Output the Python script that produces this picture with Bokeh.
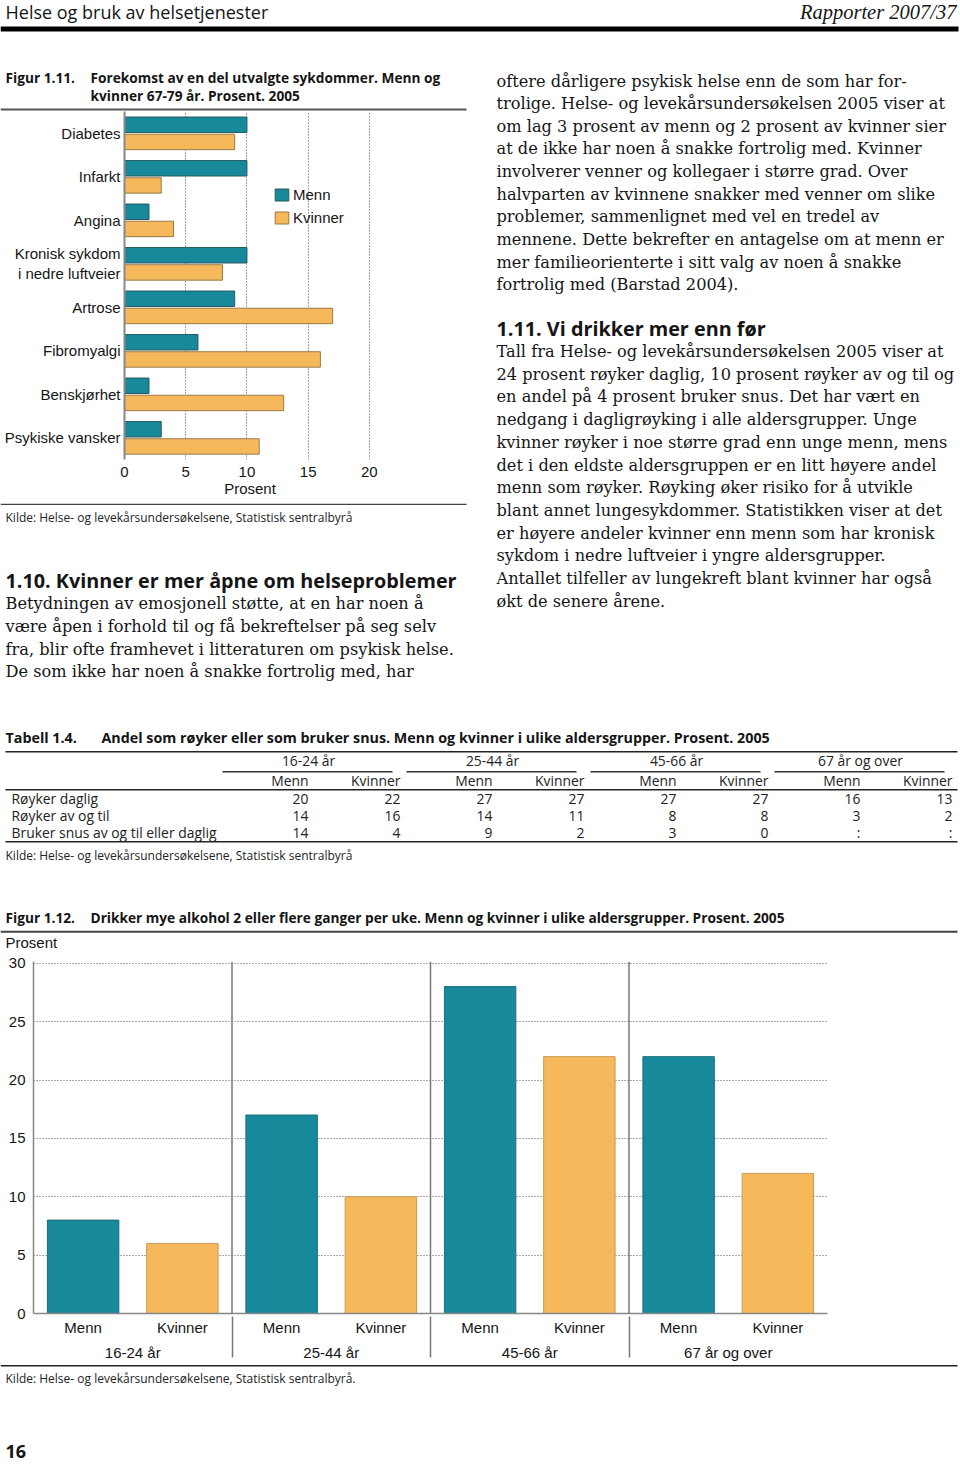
from bokeh.plotting import figure
from bokeh.models import Range1d, FactorRange, Legend, LegendItem, FixedTicker, Span, ColumnDataSource
from bokeh.layouts import column, row
from bokeh.embed import file_html
from bokeh.resources import INLINE
from bokeh.core.properties import value
from bokeh.transform import dodge

# ---------------- data ----------------
diseases = ["Diabetes", "Infarkt", "Angina", "Kronisk sykdom\ni nedre luftveier",
            "Artrose", "Fibromyalgi", "Benskjørhet", "Psykiske vansker"]
f11_menn = [10, 10, 2, 10, 9, 6, 2, 3]
f11_kvinner = [9, 3, 4, 8, 17, 16, 13, 11]
f11_ticks = [0, 5, 10, 15, 20]

table_groups = ["16-24 år", "25-44 år", "45-66 år", "67 år og over"]
table_sexes = ["Menn", "Kvinner"]
table_rows = ["Røyker daglig", "Røyker av og til", "Bruker snus av og til eller daglig"]
table_values = [["20", "22", "27", "27", "27", "27", "16", "13"],
                ["14", "16", "14", "11", "8", "8", "3", "2"],
                ["14", "4", "9", "2", "3", "0", ":", ":"]]

f12_groups = ["16-24 år", "25-44 år", "45-66 år", "67 år og over"]
f12_sexes = ["Menn", "Kvinner"]
f12_menn = [8, 17, 28, 22]
f12_kvinner = [6, 10, 22, 12]
f12_ticks = [0, 5, 10, 15, 20, 25, 30]

header_left = "Helse og bruk av helsetjenester"
header_right = "Rapporter 2007/37"
f11_label = "Figur 1.11."
f11_title = ["Forekomst av en del utvalgte sykdommer. Menn og", "kvinner 67-79 år. Prosent. 2005"]
source_text = "Kilde: Helse- og levekårsundersøkelsene, Statistisk sentralbyrå"
sec110_head = "1.10. Kvinner er mer åpne om helseproblemer"
sec110_lines = ["Betydningen av emosjonell støtte, at en har noen å",
                "være åpen i forhold til og få bekreftelser på seg selv",
                "fra, blir ofte framhevet i litteraturen om psykisk helse.",
                "De som ikke har noen å snakke fortrolig med, har"]
right_lines_1 = ["oftere dårligere psykisk helse enn de som har for-",
                 "trolige. Helse- og levekårsundersøkelsen 2005 viser at",
                 "om lag 3 prosent av menn og 2 prosent av kvinner sier",
                 "at de ikke har noen å snakke fortrolig med. Kvinner",
                 "involverer venner og kollegaer i større grad. Over",
                 "halvparten av kvinnene snakker med venner om slike",
                 "problemer, sammenlignet med vel en tredel av",
                 "mennene. Dette bekrefter en antagelse om at menn er",
                 "mer familieorienterte i sitt valg av noen å snakke",
                 "fortrolig med (Barstad 2004)."]
sec111_head = "1.11. Vi drikker mer enn før"
right_lines_2 = ["Tall fra Helse- og levekårsundersøkelsen 2005 viser at",
                 "24 prosent røyker daglig, 10 prosent røyker av og til og",
                 "en andel på 4 prosent bruker snus. Det har vært en",
                 "nedgang i dagligrøyking i alle aldersgrupper. Unge",
                 "kvinner røyker i noe større grad enn unge menn, mens",
                 "det i den eldste aldersgruppen er en litt høyere andel",
                 "menn som røyker. Røyking øker risiko for å utvikle",
                 "blant annet lungesykdommer. Statistikken viser at det",
                 "er høyere andeler kvinner enn menn som har kronisk",
                 "sykdom i nedre luftveier i yngre aldersgrupper.",
                 "Antallet tilfeller av lungekreft blant kvinner har også",
                 "økt de senere årene."]
tab_label = "Tabell 1.4."
tab_title = "Andel som røyker eller som bruker snus. Menn og kvinner i ulike aldersgrupper. Prosent. 2005"
f12_label = "Figur 1.12."
f12_title = "Drikker mye alkohol 2 eller flere ganger per uke. Menn og kvinner i ulike aldersgrupper. Prosent. 2005"
f12_source = "Kilde: Helse- og levekårsundersøkelsene, Statistisk sentralbyrå."
page_no = "16"

# ---------------- styling ----------------
SANS = "Open Sans"
SERIF = "DejaVu Serif"
CHART = "Liberation Sans"
TEAL = "#17899a"
TEAL_EDGE = "#2a5a60"
ORANGE = "#f5b95b"
ORANGE_EDGE = "#9a7a48"
INK = "#151515"
BODY = 16.2


def px(v):
    return f"{v:.2f}px"


def canvas(x0, x1, y0, y1):
    w = int(x1 - x0)
    h = int(y1 - y0)
    p = figure(width=w, height=h, x_range=Range1d(x0, x1), y_range=Range1d(y1, y0),
               output_backend="svg", toolbar_location=None, title=None,
               x_axis_location=None, y_axis_location=None, min_border=0)
    p.grid.visible = False
    p.outline_line_color = None
    return p


def pad(h):
    # 1px empty figure: keeps a chart's borders from being aligned onto its neighbours
    return canvas(0, 1, 0, h)


def T(p, x, y, s, size, font=SANS, style="normal", align="left", color=INK):
    p.text(x=[x], y=[y], text=[s], text_font=value(font), text_font_size=px(size),
           text_font_style=style, text_align=align, text_baseline="middle", text_color=color)


def L(p, x0, x1, y, width, color):
    p.line(x=[x0, x1], y=[y, y], line_width=width, line_color=color)


# ---------------- header ----------------
hdr = canvas(0, 960, 0, 60)
T(hdr, 5, 11, header_left, 18)
T(hdr, 956, 11, header_right, 20.5, "Liberation Serif", "italic", "right")
L(hdr, 0, 958, 28.5, 5, "#000000")

# ---------------- figure 1.11 title ----------------
t11 = canvas(0, 480, 60, 111)
T(t11, 5, 77, f11_label, 13.7, style="bold")
T(t11, 90, 77, f11_title[0], 13.7, style="bold")
T(t11, 90, 95, f11_title[1], 13.7, style="bold")
L(t11, 0, 466, 109, 2, "#555555")

# ---------------- figure 1.11 chart ----------------
p11 = figure(width=478, height=392, output_backend="svg", toolbar_location=None, title=None,
             y_range=FactorRange(factors=diseases[::-1]), x_range=Range1d(0, 20.5),
             min_border_left=123, min_border_right=104, min_border_top=0, min_border_bottom=44)
p11.outline_line_color = None
src11 = ColumnDataSource(dict(disease=diseases, menn=f11_menn, kvinner=f11_kvinner))
rm = p11.hbar(y=dodge("disease", 0.195, range=p11.y_range), left=0, right="menn", height=0.355,
              source=src11, fill_color=TEAL, line_color=TEAL_EDGE, line_width=1)
rk = p11.hbar(y=dodge("disease", -0.2, range=p11.y_range), left=0, right="kvinner", height=0.355,
              source=src11, fill_color=ORANGE, line_color=ORANGE_EDGE, line_width=1)
p11.ygrid.visible = False
p11.xgrid.ticker = FixedTicker(ticks=f11_ticks[1:])
p11.xgrid.grid_line_color = "#444444"
p11.xgrid.grid_line_dash = "1 2"
p11.xgrid.grid_line_width = 1
xa = p11.xaxis[0]
xa.ticker = FixedTicker(ticks=f11_ticks)
xa.axis_line_color = None
xa.major_tick_line_color = None
xa.minor_tick_line_color = None
xa.major_tick_out = 0
xa.major_tick_in = 0
xa.major_label_text_font = CHART
xa.major_label_text_font_size = px(15)
xa.major_label_text_color = INK
xa.major_label_standoff = 7
xa.axis_label = "Prosent"
xa.axis_label_text_font = CHART
xa.axis_label_text_font_size = px(15)
xa.axis_label_text_font_style = "normal"
xa.axis_label_text_color = INK
xa.axis_label_standoff = 0
ya = p11.yaxis[0]
ya.axis_line_color = "#888888"
ya.axis_line_width = 2
ya.major_tick_line_color = None
ya.minor_tick_line_color = None
ya.major_tick_out = 0
ya.major_tick_in = 0
ya.major_label_text_font = CHART
ya.major_label_text_font_size = px(15)
ya.major_label_text_color = INK
ya.major_label_standoff = 4
leg = Legend(items=[LegendItem(label="Menn", renderers=[rm]), LegendItem(label="Kvinner", renderers=[rk])],
             location=(149, 233), orientation="vertical",
             glyph_width=17, glyph_height=15, label_height=15, label_standoff=3,
             spacing=6, padding=0, margin=0, border_line_color=None, background_fill_alpha=0,
             label_text_font=CHART, label_text_font_size=px(15), label_text_color=INK)
p11.add_layout(leg)

# ---------------- left text ----------------
lt = canvas(0, 480, 503, 700)
L(lt, 0, 466, 503.8, 1.5, "#444444")
T(lt, 5, 516.5, source_text, 12, color="#222222")
T(lt, 5, 580, sec110_head, 19.8, style="bold")
for i, s in enumerate(sec110_lines):
    T(lt, 5, 603 + i * 22.8, s, BODY, SERIF)

# ---------------- right text ----------------
rt = canvas(480, 960, 60, 700)
for i, s in enumerate(right_lines_1):
    T(rt, 496, 80.5 + i * 22.65, s, BODY, SERIF)
T(rt, 496, 328, sec111_head, 19.8, style="bold")
for i, s in enumerate(right_lines_2):
    T(rt, 496, 351 + i * 22.72, s, BODY, SERIF)

# ---------------- table ----------------
tb = canvas(0, 960, 700, 880)
T(tb, 5, 737, tab_label, 14.3, style="bold")
T(tb, 101, 737, tab_title, 14.3, style="bold")
L(tb, 5, 957, 751.3, 1.5, "#222222")
col_right = [308 + 92 * k for k in range(8)]
TS = 13.9
for g, name in enumerate(table_groups):
    left_edge = col_right[2 * g] - 86
    right_edge = col_right[2 * g + 1] - 8
    T(tb, (left_edge + right_edge) / 2 + 1, 760, name, TS, align="center", color="#222222")
    L(tb, left_edge, right_edge, 771.3, 1.5, "#333333")
    for k, sx in enumerate(table_sexes):
        T(tb, col_right[2 * g + k], 780, sx, TS, align="right", color="#222222")
L(tb, 5, 957, 789.3, 1.5, "#222222")
for r, name in enumerate(table_rows):
    yy = 798 + r * 17
    T(tb, 11, yy, name, TS, color="#222222")
    for c, v in enumerate(table_values[r]):
        T(tb, col_right[c], yy, v, TS, align="right", color="#222222")
L(tb, 5, 957, 841.3, 1.5, "#222222")
T(tb, 5, 855, source_text, 12, color="#222222")

# ---------------- figure 1.12 title ----------------
t12 = canvas(0, 960, 880, 951)
T(t12, 5, 917, f12_label, 13.7, style="bold")
T(t12, 90, 917, f12_title, 13.7, style="bold")
L(t12, 0, 957, 931.3, 2, "#444444")
T(t12, 5, 942, "Prosent", 15, CHART)

# ---------------- figure 1.12 chart ----------------
factors12 = [(g, s) for g in f12_groups for s in f12_sexes]
p12 = figure(width=958, height=413, output_backend="svg", toolbar_location=None, title=None,
             x_range=FactorRange(factors=factors12, group_padding=0, range_padding=0),
             y_range=Range1d(0, 30.15),
             min_border_left=32, min_border_right=132, min_border_top=10, min_border_bottom=51)
p12.outline_line_color = None
src_m = ColumnDataSource(dict(x=[(g, "Menn") for g in f12_groups], top=f12_menn))
src_k = ColumnDataSource(dict(x=[(g, "Kvinner") for g in f12_groups], top=f12_kvinner))
p12.vbar(x="x", top="top", bottom=0, width=0.72, source=src_m, fill_color=TEAL, line_color="#1a6f7a", line_width=1)
p12.vbar(x="x", top="top", bottom=0, width=0.72, source=src_k, fill_color=ORANGE, line_color="#c99a55", line_width=1)
p12.xgrid.visible = False
p12.ygrid.ticker = FixedTicker(ticks=f12_ticks[1:])
p12.ygrid.grid_line_color = "#555555"
p12.ygrid.grid_line_dash = "1 2"
p12.ygrid.grid_line_width = 1
for k in range(1, len(f12_groups)):
    p12.add_layout(Span(location=2 * k, dimension="height", line_color="#777777", line_width=1.5))
ya2 = p12.yaxis[0]
ya2.ticker = FixedTicker(ticks=f12_ticks)
ya2.axis_line_color = "#888888"
ya2.axis_line_width = 1.5
ya2.major_tick_line_color = None
ya2.minor_tick_line_color = None
ya2.major_tick_out = 0
ya2.major_tick_in = 0
ya2.major_label_text_font = CHART
ya2.major_label_text_font_size = px(15)
ya2.major_label_text_color = INK
ya2.major_label_standoff = 8
xa2 = p12.xaxis[0]
xa2.axis_line_color = "#888888"
xa2.axis_line_width = 1.5
xa2.major_tick_line_color = None
xa2.major_tick_out = 0
xa2.major_tick_in = 0
xa2.major_label_text_font = CHART
xa2.major_label_text_font_size = px(15)
xa2.major_label_text_color = INK
xa2.major_label_standoff = 5
xa2.group_text_font = CHART
xa2.group_text_font_size = px(15)
xa2.group_text_font_style = "normal"
xa2.group_text_color = INK
xa2.separator_line_color = "#777777"
xa2.separator_line_width = 1.5

# ---------------- footer ----------------
ft = canvas(0, 960, 1364, 1465)
L(ft, 0, 957, 1365.3, 1.5, "#222222")
T(ft, 5, 1378, f12_source, 12, color="#222222")
T(ft, 5, 1451, page_no, 18, style="bold")

left_col = column(t11, row(pad(392), p11, pad(392)), lt)
layout = column(hdr, row(left_col, rt), tb, t12, row(pad(413), p12, pad(413)), ft)
open("out.html", "w").write(file_html(layout, INLINE))
